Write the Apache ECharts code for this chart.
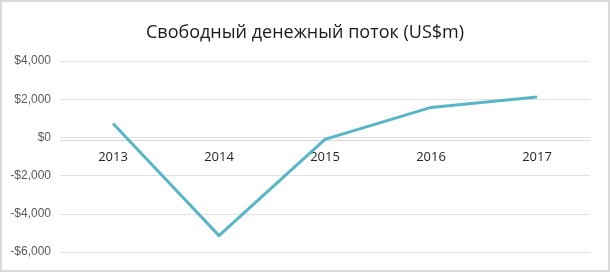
<!DOCTYPE html>
<html><head><meta charset="utf-8">
<script src="https://cdn.jsdelivr.net/npm/echarts@6/dist/echarts.min.js"></script>
<style>html,body{margin:0;padding:0;background:#fff;}#c{position:absolute;left:0;top:0;width:610px;height:272px;}#b{position:absolute;left:0;top:0;width:610px;height:272px;box-sizing:border-box;border:2px solid #d9d9d9;pointer-events:none;}</style>
</head><body><div id="c"></div><div id="b"></div>
<script>
var titleText = 'Свободный денежный поток (US$m)';
var years = ['2013', '2014', '2015', '2016', '2017'];
var freeCashFlow = [730, -5140, -100, 1570, 2120];
var yMin = -6000, yMax = 4000, yStep = 2000;
var chart = echarts.init(document.getElementById('c'));
chart.setOption({
  animation: false,
  title: { text: titleText, left: 'center', top: 19, textStyle: { fontFamily: 'Open Sans', fontSize: 18, fontWeight: 'normal', color: '#1a1a1a' } },
  grid: { left: 60, right: 20, top: 61, bottom: 20, containLabel: false },
  xAxis: { type: 'category', data: years, boundaryGap: true, offset: 0,
    axisLine: { onZero: false, lineStyle: { color: '#d9d9d9', width: 1 } },
    axisTick: { show: false },
    axisLabel: { margin: 11, fontFamily: 'Open Sans', fontSize: 13, color: '#262626' } },
  yAxis: { type: 'value', min: yMin, max: yMax, interval: yStep,
    axisLine: { show: false }, axisTick: { show: false },
    splitLine: { lineStyle: { color: '#e3e3e3', width: 1 } },
    axisLabel: { margin: 9, fontFamily: 'Liberation Sans, Arial', fontSize: 12, color: '#595959',
      formatter: function (v) { return (v < 0 ? '-$' : '$') + Math.abs(v).toLocaleString('en-US'); } } },
  series: [{ type: 'line', data: freeCashFlow, showSymbol: false, symbol: 'none',
    lineStyle: { color: '#58b6c8', width: 3, join: 'miter' } }]
});
var zeroY = chart.convertToPixel({ yAxisIndex: 0 }, 0);
var bottomY = chart.convertToPixel({ yAxisIndex: 0 }, yMin);
chart.setOption({ xAxis: { offset: zeroY - bottomY } });
</script></body></html>
